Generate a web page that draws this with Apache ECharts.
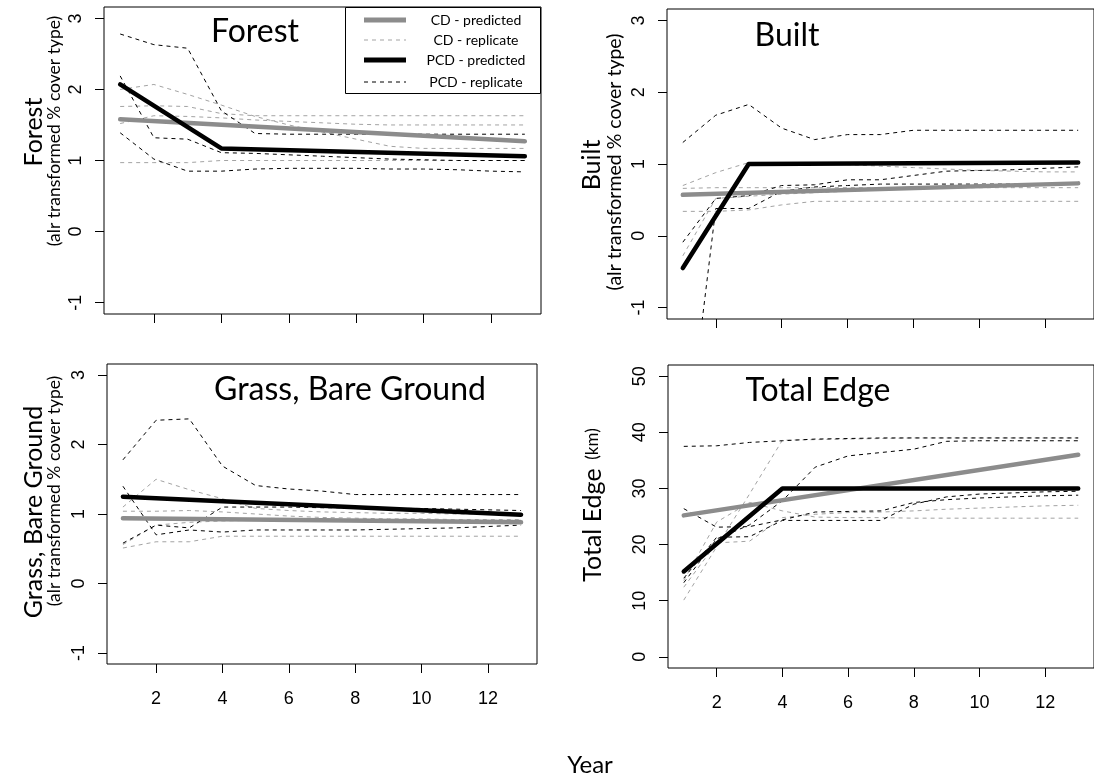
<!DOCTYPE html>
<html>
<head>
<meta charset="utf-8">
<script src="https://cdn.jsdelivr.net/npm/echarts@6/dist/echarts.min.js"></script>
<style>
  html, body { margin: 0; background: #fff; }
  #chart { width: 1094px; height: 778px; }
</style>
</head>
<body>
<div id="chart"></div>
<script>
// years of the replicate runs
const years = [1, 2, 3, 4, 5, 6, 7, 8, 9, 10, 11, 12, 13];
const xTicks = [2, 4, 6, 8, 10, 12];
const alrTicks = [-1, 0, 1, 2, 3];
const edgeTicks = [0, 10, 20, 30, 40, 50];

// Forest
const forestCdReps = [
  [2.00, 2.07, 1.93, 1.78, 1.62, 1.50, 1.40, 1.30, 1.20, 1.17, 1.17, 1.17, 1.17],
  [1.76, 1.77, 1.76, 1.66, 1.63, 1.63, 1.63, 1.63, 1.63, 1.63, 1.63, 1.63, 1.63],
  [1.52, 1.63, 1.62, 1.60, 1.57, 1.55, 1.53, 1.51, 1.50, 1.50, 1.50, 1.50, 1.50],
  [0.97, 0.97, 0.97, 1.00, 1.00, 1.00, 1.00, 1.00, 1.00, 1.00, 1.00, 1.00, 1.00],
];
const forestPcdReps = [
  [2.78, 2.63, 2.58, 1.70, 1.38, 1.37, 1.37, 1.37, 1.37, 1.37, 1.37, 1.37, 1.37],
  [2.19, 1.32, 1.30, 1.11, 1.10, 1.08, 1.06, 1.04, 1.02, 1.01, 1.00, 1.00, 1.00],
  [1.39, 1.02, 0.85, 0.85, 0.88, 0.89, 0.89, 0.89, 0.88, 0.88, 0.87, 0.85, 0.84],
];
const forestCdPred = [[1, 1.58], [13, 1.27]];
const forestPcdPred = [[1, 2.07], [4, 1.17], [13, 1.06]];

// Built
const builtCdReps = [
  [0.70, 0.88, 1.02, 1.01, 1.00, 0.99, 0.97, 0.95, 0.93, 0.91, 0.90, 0.89, 0.89],
  [0.66, 0.67, 0.67, 0.67, 0.67, 0.67, 0.67, 0.67, 0.67, 0.67, 0.67, 0.67, 0.67],
  [0.34, 0.34, 0.36, 0.43, 0.48, 0.48, 0.48, 0.48, 0.48, 0.48, 0.48, 0.48, 0.48],
  [-0.28, 0.52, 0.55, 0.58, 0.60, 0.62, 0.64, 0.66, 0.68, 0.70, 0.71, 0.72, 0.73],
];
const builtPcdReps = [
  [1.30, 1.68, 1.83, 1.50, 1.34, 1.41, 1.41, 1.47, 1.47, 1.47, 1.47, 1.47, 1.47],
  [-3.40, 0.38, 0.38, 0.62, 0.68, 0.70, 0.72, 0.72, 0.72, 0.72, 0.72, 0.72, 0.72],
  [-0.09, 0.52, 0.56, 0.70, 0.71, 0.78, 0.78, 0.84, 0.90, 0.91, 0.92, 0.94, 0.96],
];
const builtCdPred = [[1, 0.57], [13, 0.73]];
const builtPcdPred = [[1, -0.45], [3, 1.00], [13, 1.02]];

// Grass, Bare Ground
const grassCdReps = [
  [1.10, 1.50, 1.35, 1.22, 1.08, 1.05, 1.03, 1.02, 1.01, 1.01, 1.00, 1.00, 1.00],
  [1.04, 1.04, 1.05, 1.03, 1.00, 0.97, 0.95, 0.94, 0.93, 0.93, 0.92, 0.92, 0.92],
  [0.51, 0.60, 0.60, 0.68, 0.68, 0.68, 0.68, 0.68, 0.68, 0.68, 0.68, 0.68, 0.68],
  [0.56, 0.84, 0.88, 0.90, 0.91, 0.91, 0.91, 0.91, 0.91, 0.91, 0.91, 0.91, 0.91],
];
const grassPcdReps = [
  [1.78, 2.35, 2.37, 1.69, 1.41, 1.36, 1.33, 1.28, 1.28, 1.28, 1.28, 1.28, 1.28],
  [1.40, 0.70, 0.77, 0.74, 0.77, 0.77, 0.77, 0.77, 0.78, 0.79, 0.80, 0.82, 0.84],
  [0.58, 0.84, 0.80, 1.10, 1.10, 1.10, 1.09, 1.09, 1.08, 1.08, 1.07, 1.06, 1.05],
];
const grassCdPred = [[1, 0.94], [13, 0.88]];
const grassPcdPred = [[1, 1.25], [13, 0.99]];

// Total Edge (km)
const edgeCdReps = [
  [10.1, 19.6, 29.0, 38.6, 38.7, 38.8, 38.9, 39.0, 39.0, 39.0, 39.0, 39.0, 39.0],
  [13.6, 24.0, 27.5, 26.0, 24.9, 24.8, 24.8, 24.7, 24.7, 24.7, 24.7, 24.7, 24.7],
  [12.4, 20.3, 20.6, 24.8, 25.4, 25.7, 25.8, 26.0, 26.3, 26.5, 26.7, 26.9, 27.0],
];
const edgePcdReps = [
  [37.5, 37.6, 38.2, 38.5, 38.8, 38.9, 39.0, 39.0, 39.0, 39.0, 39.0, 39.0, 39.0],
  [13.2, 21.0, 23.5, 27.8, 33.8, 35.8, 36.4, 37.0, 38.4, 38.5, 38.5, 38.5, 38.5],
  [26.4, 23.1, 23.2, 24.4, 25.8, 25.9, 26.0, 27.5, 28.0, 28.3, 28.5, 28.7, 28.8],
  [14.0, 21.3, 21.4, 24.3, 24.3, 24.3, 24.3, 27.2, 28.5, 29.0, 29.2, 29.4, 29.5],
];
const edgeCdPred = [[1, 25.2], [13, 36.0]];
const edgePcdPred = [[1, 15.2], [4, 30.0], [13, 30.0]];

const legendLabels = ["CD - predicted", "CD - replicate", "PCD - predicted", "PCD - replicate"];
const alrSubtitle = "(alr transformed % cover type)";

const CD_PRED = "#8c8c8c";
const CD_REP = "#a3a3a3";
const BLACK = "#000000";
const TEXT_FONT = "Lato";
const TICK_FONT = "Liberation Sans";

const panels = [
  {
    grid: { left: 104, top: 7, width: 437, height: 307 },
    yMin: -1.16, yMax: 3.16, yTicks: alrTicks, xLabels: false,
    cdReps: forestCdReps, pcdReps: forestPcdReps, cdPred: forestCdPred, pcdPred: forestPcdPred,
  },
  {
    grid: { left: 667, top: 9, width: 435, height: 310 },
    yMin: -1.16, yMax: 3.16, yTicks: alrTicks, xLabels: false,
    cdReps: builtCdReps, pcdReps: builtPcdReps, cdPred: builtCdPred, pcdPred: builtPcdPred,
  },
  {
    grid: { left: 107, top: 364, width: 430, height: 300 },
    yMin: -1.16, yMax: 3.16, yTicks: alrTicks, xLabels: true,
    cdReps: grassCdReps, pcdReps: grassPcdReps, cdPred: grassCdPred, pcdPred: grassPcdPred,
  },
  {
    grid: { left: 668, top: 365, width: 435, height: 303 },
    yMin: -2, yMax: 52, yTicks: edgeTicks, xLabels: true,
    cdReps: edgeCdReps, pcdReps: edgePcdReps, cdPred: edgeCdPred, pcdPred: edgePcdPred,
  },
];

const panelTitles = [
  { text: "Forest", x: 255, y: 32 },
  { text: "Built", x: 787, y: 36 },
  { text: "Grass, Bare Ground", x: 350, y: 390 },
  { text: "Total Edge", x: 818, y: 391 },
];

// rotated y titles, the image was pasted together so sizes differ a bit
const yTitles = [
  { text: "Forest", x: 34, y: 132, size: 25 },
  { text: alrSubtitle, x: 54, y: 131, size: 17.5 },
  { text: "Built", x: 592, y: 165, size: 25 },
  { text: alrSubtitle, x: 615, y: 162, size: 19.5 },
  { text: "Grass, Bare Ground", x: 34, y: 512, size: 25 },
  { text: alrSubtitle, x: 54, y: 491, size: 17.5 },
  { text: "{a|Total Edge}{b|  (km)}", x: 593, y: 505, size: 25 },
];


function repSeries(reps, index, color) {
  return reps.map((values) => ({
    type: "line",
    xAxisIndex: index,
    yAxisIndex: index,
    data: years.map((year, i) => [year, values[i]]),
    symbol: "none",
    silent: true,
    lineStyle: { width: 1, color, type: [4, 4] },
  }));
}


function predSeries(points, index, color) {
  return {
    type: "line",
    xAxisIndex: index,
    yAxisIndex: index,
    data: points,
    symbol: "none",
    silent: true,
    lineStyle: { width: 4.5, color, cap: "round", join: "round" },
  };
}


const grid = [];
const xAxis = [];
const yAxis = [];
const series = [];

panels.forEach((panel, index) => {
  grid.push({ ...panel.grid, show: true, borderColor: BLACK, borderWidth: 1, backgroundColor: "transparent" });

  xAxis.push({
    type: "value",
    gridIndex: index,
    min: 0.52,
    max: 13.48,
    axisLine: { show: false, onZero: false },
    axisTick: { show: true, inside: false, length: 9, customValues: xTicks, lineStyle: { color: BLACK, width: 1 } },
    axisLabel: {
      show: panel.xLabels,
      customValues: xTicks,
      margin: 26,
      color: BLACK,
      fontFamily: TICK_FONT,
      fontSize: 18,
    },
    splitLine: { show: false },
  });

  yAxis.push({
    type: "value",
    gridIndex: index,
    min: panel.yMin,
    max: panel.yMax,
    axisLine: { show: false, onZero: false },
    axisTick: { show: true, inside: false, length: 9, customValues: panel.yTicks, lineStyle: { color: BLACK, width: 1 } },
    axisLabel: {
      customValues: panel.yTicks,
      rotate: 90,
      margin: 19,
      color: BLACK,
      fontFamily: TICK_FONT,
      fontSize: 18,
    },
    splitLine: { show: false },
  });

  series.push(...repSeries(panel.cdReps, index, CD_REP));
  series.push(...repSeries(panel.pcdReps, index, BLACK));
  series.push(predSeries(panel.cdPred, index, CD_PRED));
  series.push(predSeries(panel.pcdPred, index, BLACK));
});

// legend box drawn like the R legend
const legendStyles = [
  { stroke: CD_PRED, lineWidth: 5 },
  { stroke: CD_REP, lineWidth: 1, lineDash: [4, 4] },
  { stroke: BLACK, lineWidth: 5 },
  { stroke: BLACK, lineWidth: 1, lineDash: [4, 4] },
];
const legendRows = [20, 40, 60, 82];

const graphic = [
  {
    type: "rect",
    shape: { x: 345.5, y: 7.5, width: 195, height: 86 },
    style: { fill: "#fff", stroke: BLACK, lineWidth: 1 },
    z: 10,
  },
];
legendLabels.forEach((label, i) => {
  graphic.push({
    type: "line",
    shape: { x1: 364, y1: legendRows[i], x2: 406, y2: legendRows[i] },
    style: legendStyles[i],
    z: 11,
  });
  graphic.push({
    type: "text",
    x: 476,
    y: legendRows[i],
    style: {
      text: label,
      fill: BLACK,
      font: `14px ${TEXT_FONT}`,
      textAlign: "center",
      textVerticalAlign: "middle",
    },
    z: 11,
  });
});

panelTitles.forEach((title) => {
  graphic.push({
    type: "text",
    x: title.x,
    y: title.y,
    style: {
      text: title.text,
      fill: BLACK,
      font: `32px ${TEXT_FONT}`,
      textAlign: "center",
      textVerticalAlign: "middle",
    },
    z: 12,
  });
});

yTitles.forEach((title) => {
  graphic.push({
    type: "text",
    x: title.x,
    y: title.y,
    rotation: Math.PI / 2,
    style: {
      text: title.text,
      fill: BLACK,
      font: `${title.size}px ${TEXT_FONT}`,
      textAlign: "center",
      textVerticalAlign: "middle",
      rich: {
        a: { fontFamily: TEXT_FONT, fontSize: 25, fill: BLACK },
        b: { fontFamily: TEXT_FONT, fontSize: 17, fill: BLACK },
      },
    },
  });
});

graphic.push({
  type: "text",
  x: 590,
  y: 765,
  style: {
    text: "Year",
    fill: BLACK,
    font: `24px ${TEXT_FONT}`,
    textAlign: "center",
    textVerticalAlign: "middle",
  },
});

const chart = echarts.init(document.getElementById("chart"));
chart.setOption({
  animation: false,
  backgroundColor: "#fff",
  grid,
  xAxis,
  yAxis,
  series,
  graphic,
});
</script>
</body>
</html>
